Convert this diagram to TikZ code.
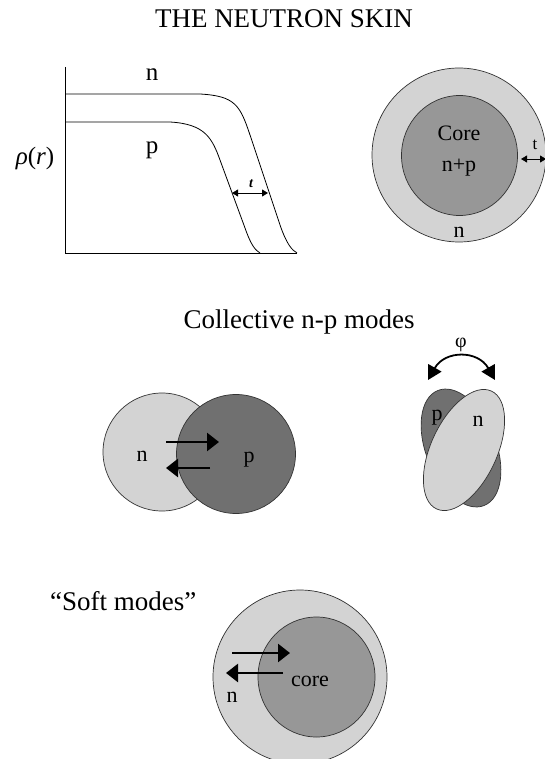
\documentclass[tikz,border=0pt]{standalone}
\usepackage{fontspec}
\setmainfont{Liberation Serif}
\usetikzlibrary{arrows.meta}
\definecolor{lgray}{HTML}{D3D3D3}
\definecolor{mgray}{HTML}{979797}
\definecolor{dgray}{HTML}{707070}
\definecolor{edge}{HTML}{333333}
\begin{document}
\begin{tikzpicture}[x=1pt,y=-1pt,
  heading/.style={font=\fontsize{27}{32}\selectfont, anchor=base, inner sep=0pt},
  lab/.style={font=\fontsize{22}{26}\selectfont, anchor=base, inner sep=0pt},
  biglab/.style={font=\fontsize{25}{30}\selectfont, anchor=base, inner sep=0pt},
  curve/.style={line width=0.8pt, black},
  disc/.style={draw=edge, line width=0.7pt},
  fatarrow/.style={line width=2.6pt, -{Triangle[length=12pt,width=18pt]}},
  thinarrow/.style={line width=0.8pt, {Triangle[length=6pt,width=7pt]}-{Triangle[length=6pt,width=7pt]}},
  phiarrow/.style={line width=1.8pt, {Triangle[length=14pt,width=15pt]}-{Triangle[length=14pt,width=15pt]}}]
\useasboundingbox (0,0) rectangle (545,759);

% Title
\node[heading] (title) at (284,28) {THE NEUTRON SKIN};

% Density graph
\coordinate (ytop) at (65,67);
\coordinate (orig) at (65,253);
\coordinate (xend) at (297,253);
\draw[curve] (ytop) -- (orig) -- (xend);
\coordinate (nstart) at (65,94);
\coordinate (pstart) at (65,122);
\draw[curve] (nstart) -- (200,94) .. controls (235,96) and (240,105) .. (250,135)
  -- (280,225) .. controls (287,245) and (292,250) .. (297,253);
\draw[curve] (pstart) -- (170,122) .. controls (205,124) and (212,138) .. (220,160)
  -- (245,228) .. controls (251,245) and (255,250) .. (260,253);
\coordinate (tl) at (232,193);
\coordinate (tr) at (268,193);
\draw[thinarrow] (tl) -- (tr);
\node[font=\fontsize{14}{16}\selectfont\bfseries\itshape, anchor=base, inner sep=0pt] (tlab) at (251,188) {t};
\node[biglab] (gn) at (152,81) {n};
\node[biglab] (gp) at (152,154) {p};
\node[font=\fontsize{25}{30}\selectfont, inner sep=0pt] (rho) at (35,158) {\textit{ρ}(\textit{r})};

% Skin circle
\path[disc, fill=lgray] (459,155) circle[radius=87pt];
\path[disc, fill=mgray] (459.5,155.5) ellipse[x radius=58pt, y radius=60pt];
\node[lab] (core) at (459,141) {Core};
\node[lab] (np) at (459,172) {n+p};
\node[lab] (skinn) at (459,237) {n};
\node[font=\fontsize{17}{20}\selectfont, anchor=base, inner sep=0pt] (st) at (535,150) {t};
\coordinate (sl) at (521,159);
\coordinate (sr) at (546,159);
\draw[thinarrow] (sl) -- (sr);

% Collective modes
\node[heading] (coll) at (299,328) {Collective n-p modes};
\path[disc, fill=lgray] (162,452) circle[radius=59pt];
\path[disc, fill=dgray] (236,454) circle[radius=59.5pt];
\node[lab] (cn) at (142,461) {n};
\node[lab] (cp) at (249,462) {p};
\coordinate (ra1) at (166,442);
\coordinate (ra2) at (219,442);
\coordinate (la1) at (210,468);
\coordinate (la2) at (166,468);
\draw[fatarrow] (ra1) -- (ra2);
\draw[fatarrow] (la1) -- (la2);

% Scissors mode
\path[disc, fill=dgray, rotate around={112:(461,448)}] (461,448) ellipse[x radius=62pt, y radius=35pt];
\path[disc, fill=lgray, rotate around={65:(464,450)}] (464,450) ellipse[x radius=65pt, y radius=33pt];
\node[lab] (ep) at (437,420) {p};
\node[lab] (en) at (478,426) {n};
\coordinate (phl) at (428,380);
\coordinate (phr) at (495,380);
\draw[phiarrow] (phl) .. controls (445,350) and (478,350) .. (phr);
\node[font=\fontsize{20}{24}\selectfont, inner sep=0pt] (phi) at (461,345) {φ};

% Soft modes
\node[heading, anchor=base west] (soft) at (50,610) {“Soft modes”};
\path[disc, fill=lgray] (300,677) circle[radius=87pt];
\path[disc, fill=mgray] (316.5,677) ellipse[x radius=58.5pt, y radius=60pt];
\node[lab] (score) at (310,686) {core};
\node[lab] (sn) at (232,702) {n};
\coordinate (sa1) at (232,653);
\coordinate (sa2) at (290,653);
\coordinate (sb1) at (283,673);
\coordinate (sb2) at (226,673);
\draw[fatarrow] (sa1) -- (sa2);
\draw[fatarrow] (sb1) -- (sb2);
\end{tikzpicture}
\end{document}
